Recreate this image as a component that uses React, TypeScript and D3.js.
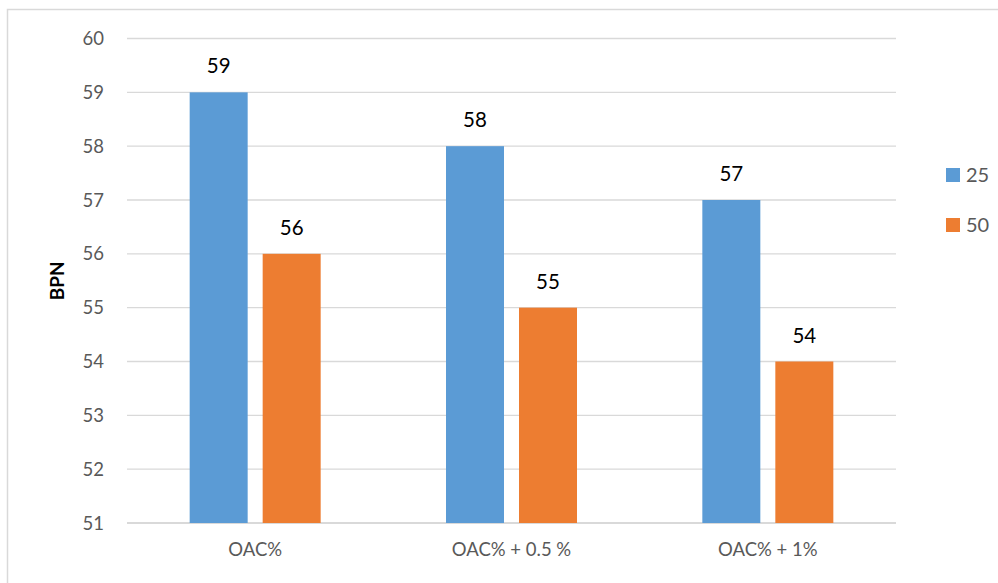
import React from "react";
import * as d3 from "d3";

const categories = ["OAC%", "OAC% + 0.5 %", "OAC% + 1%"];
const seriesNames = ["25", "50"];
const values25 = [59, 58, 57];
const values50 = [56, 55, 54];
const yTicks = [51, 52, 53, 54, 55, 56, 57, 58, 59, 60];
const colors = ["#5B9BD5", "#ED7D31"];

const W = 998;
const H = 583;
const FONT = "Lato, 'Open Sans', sans-serif";

export default function App() {
  const left = 127;
  const right = 896;
  const top = 38.5;
  const bottom = 523;
  const x = d3.scaleBand<string>().domain(categories).range([left, right]).paddingInner(0).paddingOuter(0);
  const y = d3.scaleLinear().domain([51, 60]).range([bottom, top]);
  const barW = 58;
  const gap = 15;
  const series = [values25, values50];

  return (
    <svg width={W} height={H} style={{ position: "absolute", left: 0, top: 0 }} fontFamily={FONT}>
      <rect x={0} y={0} width={W} height={H} fill="#fff" />
      <rect x={7.5} y={9.5} width={W + 20} height={H + 20} fill="none" stroke="#d9d9d9" strokeWidth={1.5} />
      {yTicks.map((t) => (
        <g key={t}>
          <line x1={left} x2={right} y1={y(t)} y2={y(t)} stroke="#d9d9d9" strokeWidth={t === 51 ? 2 : 1.3} />
          <text x={104} y={y(t)} dy="0.36em" textAnchor="end" fontSize={18.5} fill="#595959">
            {t}
          </text>
        </g>
      ))}
      {categories.map((c, i) => {
        const cx = (x(c) as number) + x.bandwidth() / 2;
        const start = cx - (2 * barW + gap) / 2;
        return (
          <g key={c}>
            {series.map((vals, s) => {
              const bx = start + s * (barW + gap);
              return (
                <g key={s}>
                  <rect x={bx} y={y(vals[i])} width={barW} height={y(51) - y(vals[i])} fill={colors[s]} />
                  <text x={bx + barW / 2} y={y(vals[i]) - 19} textAnchor="middle" fontSize={20.5} fill="#000">
                    {vals[i]}
                  </text>
                </g>
              );
            })}
            <text x={cx} y={556} textAnchor="middle" fontSize={18.5} fill="#595959">
              {c}
            </text>
          </g>
        );
      })}
      <text
        transform={`translate(64,${(top + bottom) / 2}) rotate(-90)`}
        textAnchor="middle"
        fontSize={19}
        fontWeight="bold"
        fill="#000"
      >
        BPN
      </text>
      {seriesNames.map((n, s) => (
        <g key={n}>
          <rect x={946} y={168 + s * 50} width={14} height={14} fill={colors[s]} />
          <text x={966} y={175 + s * 50} dy="0.36em" fontSize={20} fill="#595959">
            {n}
          </text>
        </g>
      ))}
    </svg>
  );
}
